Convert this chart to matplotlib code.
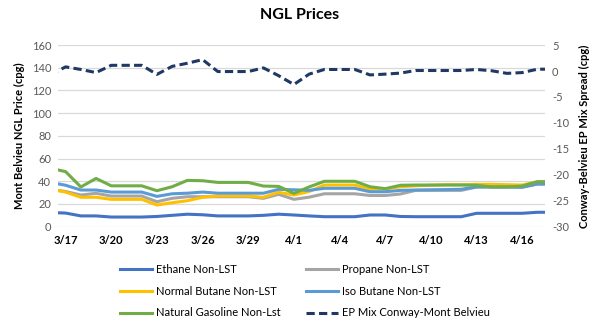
import datetime as dt
import matplotlib
matplotlib.use("Agg")
import matplotlib.pyplot as plt
import matplotlib.dates as mdates
from matplotlib.ticker import FuncFormatter, MultipleLocator

plt.rcParams["font.family"] = ["Lato", "DejaVu Sans"]
plt.rcParams["axes.unicode_minus"] = False

# Daily price history (weekend values carry the prior Friday)
start = dt.date(2020, 3, 16)
dates = [start + dt.timedelta(days=i) for i in range(34)]

ethane = [12.5, 12, 9.5, 9.5, 8.5, 8.5, 8.5, 9, 10, 11, 10.5, 9.5, 9.5, 9.5,
          10, 11, 10.3, 9.5, 8.8, 8.8, 8.8, 10.3, 10.3, 9, 8.8, 8.8, 8.8, 8.8,
          11.8, 11.8, 11.8, 11.8, 12.7, 12.7]
propane = [33, 31, 27.9, 29.4, 27, 27, 27, 22, 25, 26.4, 26.4, 26.4, 26.4, 26.4,
           25, 28.5, 24.1, 26, 29, 29, 29, 27.5, 27.5, 28.8, 32, 32, 32, 32,
           35, 35, 35, 35, 37.6, 37.6]
normal_butane = [33, 30.5, 25.9, 25.9, 24.1, 24.1, 24.1, 19.1, 21.1, 22.9, 25.9, 27, 27, 27,
                 25.9, 30.3, 27.9, 31, 36.7, 36.7, 36.7, 32.9, 33.2, 35.2, 36, 36.5, 37, 37,
                 37.3, 37.3, 37, 36.7, 39.6, 40]
iso_butane = [39, 36.5, 32.3, 32.3, 30.5, 30.5, 30.5, 26.7, 29, 29.5, 30.5, 29.5, 29.5, 29.5,
              29.5, 32.9, 32.5, 32, 33.8, 33.8, 33.8, 30.8, 30.8, 32, 32.3, 32.5, 32.7, 33,
              35, 35, 35, 34.7, 37.6, 37.6]
nat_gasoline = [51.5, 48.5, 35, 42.5, 36, 36, 36, 31.7, 35.2, 40.8, 40.5, 39, 39, 39,
                35.8, 35.5, 29.4, 35, 40, 40, 40, 35.2, 33.5, 36.5, 36.7, 36.7, 36.7, 36.7,
                36.5, 35, 35, 35.8, 39.6, 39.6]
ep_mix_spread = [-0.7, 0.8, 0.3, -0.3, 1.1, 1.1, 1.1, -0.65, 0.9, 1.5, 2.2, -0.1, -0.1, -0.1,
                 0.6, -0.9, -2.6, -0.6, 0.3, 0.3, 0.3, -0.75, -0.6, -0.4, 0.1, 0.1, 0.1, 0.1,
                 0.3, 0.05, -0.45, -0.3, 0.35, 0.35]

series_labels = ["Ethane Non-LST", "Propane Non-LST", "Normal Butane Non-LST",
                 "Iso Butane Non-LST", "Natural Gasoline Non-Lst", "EP Mix Conway-Mont Belvieu"]

c_ethane = "#4472C4"
c_propane = "#A5A5A5"
c_nbutane = "#FFC000"
c_ibutane = "#5B9BD5"
c_natgas = "#70AD47"
c_epmix = "#1F3864"

fig = plt.figure(figsize=(6.0, 3.22), dpi=100)
ax = fig.add_axes([0.0967, 0.296, 0.8116, 0.564])
ax2 = ax.twinx()

lw = 2.2
h_eth, = ax.plot(dates, ethane, color=c_ethane, lw=lw, label=series_labels[0])
h_pro, = ax.plot(dates, propane, color=c_propane, lw=lw, label=series_labels[1])
h_nb, = ax.plot(dates, normal_butane, color=c_nbutane, lw=lw, label=series_labels[2])
h_ib, = ax.plot(dates, iso_butane, color=c_ibutane, lw=lw, label=series_labels[3])
h_ng, = ax.plot(dates, nat_gasoline, color=c_natgas, lw=lw, label=series_labels[4])
h_ep, = ax2.plot(dates, ep_mix_spread, color=c_epmix, lw=lw, dashes=(2.7, 1.4),
                 dash_capstyle="butt", label=series_labels[5])

for a in (ax, ax2):
    for s in a.spines.values():
        s.set_visible(False)

ax.set_ylim(0, 160)
ax.yaxis.set_major_locator(MultipleLocator(20))
ax2.set_ylim(-30, 5)
ax2.yaxis.set_major_locator(MultipleLocator(5))

ax.set_xlim(dt.datetime(2020, 3, 16, 12), dt.datetime(2020, 4, 17, 12))
tick_days = [dt.date(2020, 3, 17) + dt.timedelta(days=3 * k) for k in range(11)]
ax.set_xticks(tick_days)
ax.xaxis.set_major_formatter(FuncFormatter(
    lambda v, pos: f"{mdates.num2date(v).month}/{mdates.num2date(v).day}"))

ax.grid(axis="y", color="#D9D9D9", lw=0.9)
ax.set_axisbelow(True)
ax.tick_params(axis="y", length=0, labelsize=8, labelcolor="#595959", pad=5)
ax2.tick_params(axis="y", length=0, labelsize=8, labelcolor="#595959", pad=5)
ax.tick_params(axis="x", length=0, labelsize=8, pad=6)
for t in ax.get_xticklabels():
    t.set_fontweight("bold")

ax.set_ylabel("Mont Belvieu NGL Price (cpg)", fontsize=8, fontweight="bold", labelpad=5)
ax2.set_ylabel("Conway-Belvieu EP Mix Spread (cpg)", fontsize=8, fontweight="bold",
               rotation=90, labelpad=7)

fig.suptitle("NGL Prices", x=0.5, y=0.975, fontsize=11.5, fontweight="bold")

handles = [h_eth, h_nb, h_ng, h_pro, h_ib, h_ep]
fig.legend(handles, [h.get_label() for h in handles], ncol=2, loc="upper left",
           bbox_to_anchor=(0.183, 0.21), frameon=False, fontsize=8,
           handlelength=2.9, handletextpad=0.4, columnspacing=2.2, labelspacing=0.95)

fig.savefig("out.png", dpi=100)
